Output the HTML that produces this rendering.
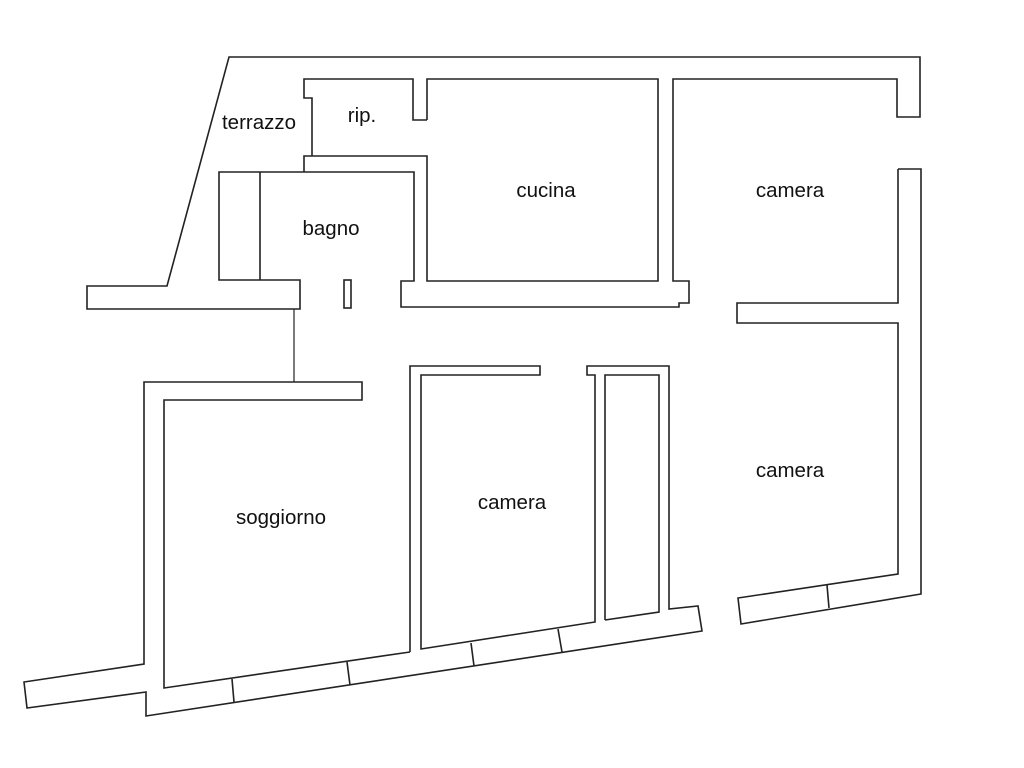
<!DOCTYPE html>
<html><head><meta charset="utf-8"><style>
html,body{margin:0;padding:0;background:#fff}
svg{display:block}
text{font-family:"Liberation Sans",sans-serif;font-size:20.5px;fill:#111;text-anchor:middle}
</style></head><body>
<svg width="1024" height="768" viewBox="0 0 1024 768">
<g fill="none" stroke="#222" stroke-width="1.6" stroke-linejoin="miter">
<polyline points="427,120 427,79 658,79 658,281 427,281 427,156 304,156 304,172 414,172 414,281 401,281 401,307 679,307 679,303 689,303 689,281 673,281 673,79 897,79 897,117 920,117 920,57 229,57 167,286 87,286 87,309 300,309 300,280 219,280 219,172 304,172"/>
<line x1="260" y1="172" x2="260" y2="280"/>
<polyline points="427,120 413,120 413,79 304,79 304,98 312,98 312,156"/>
<rect x="344" y="280" width="7" height="28"/>
<line x1="294" y1="309" x2="294" y2="382" stroke-width="1.2"/>
<polyline points="898,169 921,169 921,594 741,624 738,598 898,574 898,323 737,323 737,303 898,303 898,169"/>
<line x1="827" y1="585" x2="829" y2="608"/>
<polyline points="410,652 410,366 540,366 540,375 421,375 421,649 595,622 595,375 587,375 587,366 669,366 669,609 698,606 702,631 146,716 146,692 27,708 24,682 144,664 144,382 362,382 362,400 164,400 164,688 410,652"/>
<polyline points="605,620 605,375 659,375 659,612 605,620"/>
<line x1="232" y1="679" x2="234" y2="702"/>
<line x1="347" y1="662" x2="350" y2="685"/>
<line x1="471" y1="643" x2="474" y2="666"/>
<line x1="558" y1="629" x2="562" y2="652"/>
</g>
<text x="259" y="129">terrazzo</text>
<text x="362" y="122">rip.</text>
<text x="331" y="235">bagno</text>
<text x="546" y="197">cucina</text>
<text x="790" y="197">camera</text>
<text x="790" y="477">camera</text>
<text x="512" y="509">camera</text>
<text x="281" y="524">soggiorno</text>
</svg>
</body></html>
